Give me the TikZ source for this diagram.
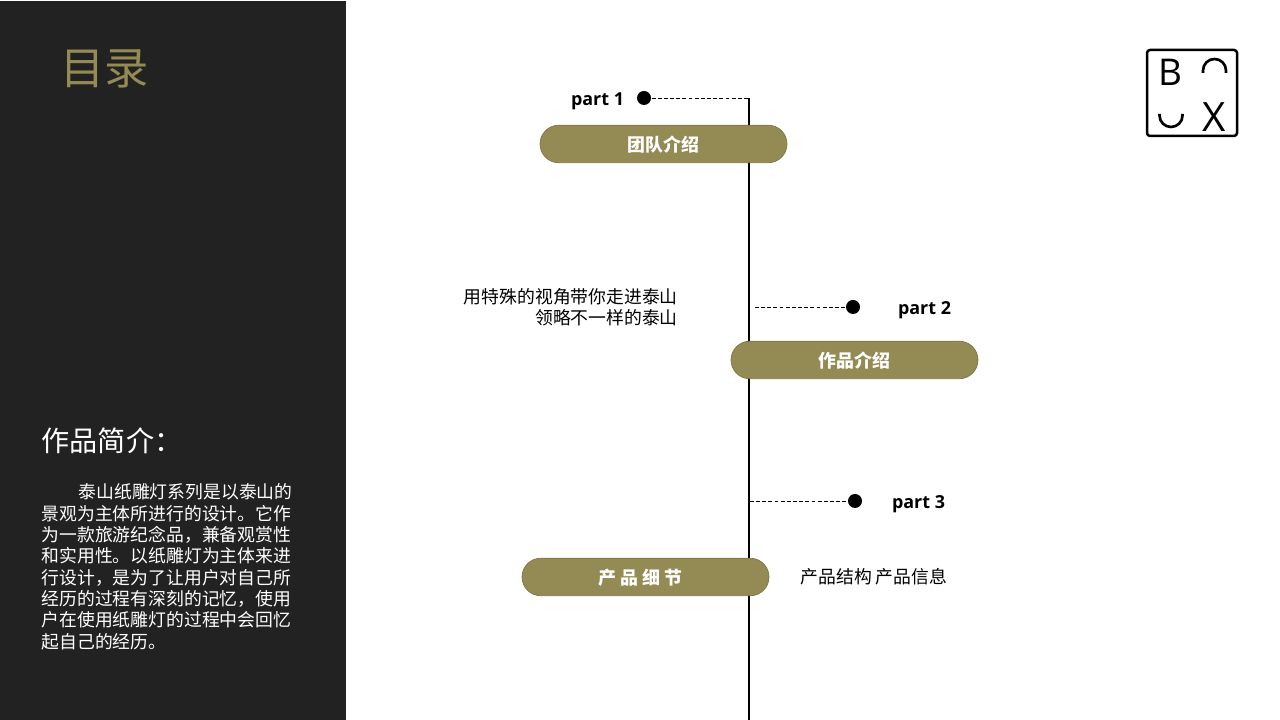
\documentclass[tikz,border=0pt]{standalone}
\usepackage{fontspec}
\setmainfont{Noto Sans CJK SC}
\newfontfamily\partfont{Open Sans}
\usetikzlibrary{shapes.misc}
\definecolor{olive}{HTML}{948A54}
\definecolor{panel}{HTML}{222222}
\newcommand{\pxfont}[2]{\fontsize{#1}{#2}\selectfont}
\begin{document}
\begin{tikzpicture}[
				    pill/.style={rounded rectangle, draw=olive!85!black, line width=0.2pt, fill=olive,
				    			  minimum width=2.47cm, minimum height=0.375cm, inner sep=0pt,
				    			  text height=0.2cm, text depth=0.05cm,
				    			  text=white, font=\pxfont{5.1}{6}\bfseries},
				    dot/.style={circle, fill=black, minimum size=0.14cm, inner sep=0pt},
				    part/.style={inner sep=0pt, text=black, font=\partfont\pxfont{5.1}{6}\bfseries},
				    note/.style={inner sep=0pt, text=black, align=right, font=\pxfont{5.07}{6}},
				    lead/.style={dash pattern=on 1.1pt off 0.65pt, line width=0.25pt}]
	\useasboundingbox (0, 0) rectangle (12.8, 7.2);
	\fill[white] (0, 0) rectangle (12.8, 7.2);
	\fill[panel] (0, 0) rectangle (3.46, 7.19);
	% left panel
	\node[inner sep=0pt, text=olive, font=\pxfont{12.6}{14}] (title) at (1.045, 6.51) {目录};
	\node[inner sep=0pt, text=white, anchor=west, font=\pxfont{8}{10}] (intro) at (0.41, 2.79) {作品简介：};
	\node[inner sep=0pt, text=white, anchor=north west, align=left, font=\pxfont{5.07}{6.08}] (body) at (0.41, 2.37)
		{\hspace{0.37cm}泰山纸雕灯系列是以泰山的\\
		 景观为主体所进行的设计。它作\\
		 为一款旅游纪念品，兼备观赏性\\
		 和实用性。以纸雕灯为主体来进\\
		 行设计，是为了让用户对自己所\\
		 经历的过程有深刻的记忆，使用\\
		 户在使用纸雕灯的过程中会回忆\\
		 起自己的经历。};
	% timeline
	\coordinate (top) at (7.49, 6.22);
	\coordinate (bottom) at (7.49, 0);
	\coordinate (lead2) at (7.55, 4.13);
	\coordinate (lead3) at (7.5, 2.19);
	\path[line width=0.8pt] (top) edge (bottom);
	\node[dot] (dot1) at (6.44, 6.22) {};
	\node[dot] (dot2) at (8.53, 4.13) {};
	\node[dot] (dot3) at (8.55, 2.19) {};
	\path[lead] (dot1) edge (top);
	\path[lead] (lead2) edge (dot2);
	\path[lead] (lead3) edge (dot3);
	\node[part] (part1) at (5.975, 6.19) {part 1};
	\node[part] (part2) at (9.245, 4.1) {part 2};
	\node[part] (part3) at (9.185, 2.16) {part 3};
	\node[pill] (team) at (6.635, 5.76) {团队介绍};
	\node[pill] (work) at (8.545, 3.6) {作品介绍};
	\node[pill] (detail) at (6.455, 1.43) {\mbox{产 品 细 节\kern0.1cm}};
	\node[note] (slogan) [anchor=east] at (6.785, 4.13) {用特殊的视角带你走进泰山\\领略不一样的泰山};
	\node[note] (info) [anchor=west] at (8, 1.43) {产品结构 产品信息};
	% logo
	\draw[line width=0.7pt, rounded corners=0.03cm] (11.47, 5.84) rectangle (12.37, 6.7);
	\node[inner sep=0pt, font=\partfont\pxfont{10.5}{12}] (logoB) at (11.7, 6.48) {B};
	\node[inner sep=0pt, font=\partfont\pxfont{11.5}{12}] (logoX) at (12.145, 6.03) {X};
	\draw[line width=0.75pt] (12.03, 6.47) -- ++(0, 0.025) arc (180:0:0.115) -- ++(0, -0.025);
	\draw[line width=0.75pt] (11.595, 6.06) -- ++(0, -0.015) arc (180:360:0.115) -- ++(0, 0.015);
\end{tikzpicture}
\end{document}
